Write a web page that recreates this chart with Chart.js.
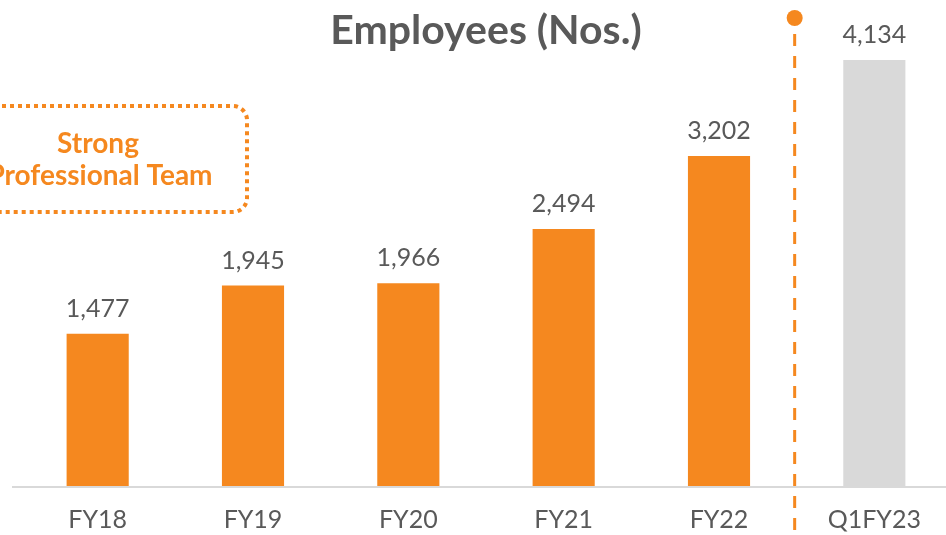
<!DOCTYPE html>
<html>
<head>
<meta charset="utf-8">
<script src="https://cdn.jsdelivr.net/npm/chart.js@4.4.0/dist/chart.umd.min.js"></script>
<style>
  html, body { margin:0; padding:0; background:#fff; overflow:hidden; }
  #wrap { width:952px; height:535px; }
</style>
</head>
<body>
<div id="wrap"><canvas id="empChart" width="952" height="535"></canvas></div>
<script>
// datos
const CATEGORIAS = ['FY18', 'FY19', 'FY20', 'FY21', 'FY22', 'Q1FY23'];
const EMPLEADOS  = [1477, 1945, 1966, 2494, 3202, 4134];
const COLORES    = ['#F5881F', '#F5881F', '#F5881F', '#F5881F', '#F5881F', '#D9D9D9'];
const TITULO     = 'Employees (Nos.)';
const NOTA       = ['Strong', 'Professional Team'];

const NARANJA = '#F5881F';
const GRIS_TXT = '#595959';

// etiquetas de valor, título, recuadro punteado y línea separadora
const extras = {
  id: 'extras',
  afterDatasetsDraw(chart) {
    const { ctx, chartArea } = chart;
    const meta = chart.getDatasetMeta(0);
    ctx.save();
    ctx.fillStyle = GRIS_TXT;
    ctx.font = '25px Lato';
    ctx.textAlign = 'center';
    ctx.textBaseline = 'alphabetic';
    meta.data.forEach((bar, i) => {
      ctx.fillText(EMPLEADOS[i].toLocaleString('en-US'), bar.x, bar.y - 17);
    });

    // título
    ctx.font = 'bold 41px Lato';
    ctx.fillText(TITULO, 486, 44);

    // recuadro punteado
    ctx.strokeStyle = NARANJA;
    ctx.lineWidth = 4;
    ctx.setLineDash([4, 4]);
    ctx.beginPath();
    ctx.roundRect(-60, 106, 307, 106, 14);
    ctx.stroke();
    ctx.setLineDash([]);
    ctx.fillStyle = NARANJA;
    ctx.font = 'bold 28px Lato';
    ctx.fillText(NOTA[0], 98, 153);
    ctx.fillText(NOTA[1], 100, 185);

    // separador entre FY22 y Q1FY23
    const xs = (meta.data[4].x + meta.data[5].x) / 2 - 2;
    ctx.strokeStyle = NARANJA;
    ctx.lineWidth = 3;
    ctx.setLineDash([12, 10]);
    ctx.beginPath();
    ctx.moveTo(xs, 34);
    ctx.lineTo(xs, 535);
    ctx.stroke();
    ctx.setLineDash([]);
    ctx.beginPath();
    ctx.arc(xs, 18, 8, 0, Math.PI * 2);
    ctx.fill();

    // eje x
    ctx.strokeStyle = '#D9D9D9';
    ctx.lineWidth = 2;
    ctx.beginPath();
    ctx.moveTo(12, chartArea.bottom + 1);
    ctx.lineTo(952, chartArea.bottom + 1);
    ctx.stroke();
    ctx.restore();
  }
};

new Chart(document.getElementById('empChart'), {
  type: 'bar',
  data: {
    labels: CATEGORIAS,
    datasets: [{
      data: EMPLEADOS,
      backgroundColor: COLORES,
      barPercentage: 0.4,
      categoryPercentage: 1,
    }],
  },
  options: {
    responsive: false,
    animation: false,
    layout: { padding: { left: 20, right: 0, top: 0, bottom: -19 } },
    plugins: { legend: { display: false }, tooltip: { enabled: false } },
    scales: {
      x: {
        grid: { display: false, drawTicks: false },
        border: { display: false },
        ticks: { font: { family: 'Lato', size: 25 }, color: GRIS_TXT, padding: 19 },
      },
      y: { display: false, min: 0, max: 4715 },
    },
  },
  plugins: [extras],
});
</script>
</body>
</html>
